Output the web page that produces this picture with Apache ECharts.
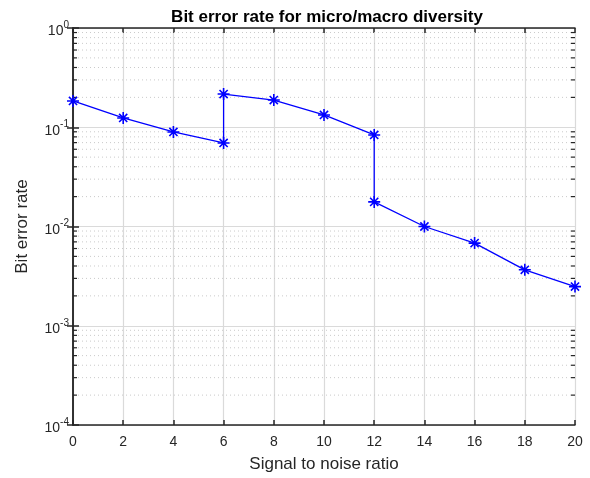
<!DOCTYPE html>
<html>
<head>
<meta charset="utf-8">
<script src="https://cdn.jsdelivr.net/npm/echarts@6/dist/echarts.min.js"></script>
<style>
html,body{margin:0;padding:0;background:#fff;}
#c{width:590px;height:478px;}
</style>
</head>
<body>
<div id="c"></div>
<script>
// ---- data ----
var snr = [0, 2, 4, 6, 6, 8, 10, 12, 12, 14, 16, 18, 20];
var ber = [0.184, 0.124, 0.0897, 0.0695, 0.216, 0.188, 0.133, 0.0836, 0.0177, 0.0100, 0.0068, 0.00366, 0.00248];
var xTicks = [0, 2, 4, 6, 8, 10, 12, 14, 16, 18, 20];
var yDecades = [1e-4, 1e-3, 1e-2, 1e-1, 1e0];
var yMinorTicks = [];
for (var d = 0; d < yDecades.length - 1; d++) {
  for (var m = 2; m <= 9; m++) yMinorTicks.push(m * yDecades[d]);
}
var titleText = 'Bit error rate for micro/macro diversity';
var xName = 'Signal to noise ratio';
var yName = 'Bit error rate';

var FONT = '"Liberation Sans", Arial, Helvetica, sans-serif';
var AX = '#262626';
var xMin = xTicks[0], xMax = xTicks[xTicks.length - 1];

var chart = echarts.init(document.getElementById('c'), null, {renderer: 'canvas'});

function yLabel(v) {
  var e = Math.round(Math.log(v) / Math.LN10);
  return '{b|10}{s|' + e + '}';
}

var asterisk = 'path://M5,0 L5,10 M0,5 L10,5 M1.6,1.6 L8.4,8.4 M8.4,1.6 L1.6,8.4';

var option = {
  animation: false,
  backgroundColor: '#fff',
  title: {
    text: titleText,
    left: 322, top: 4, textAlign: 'center',
    textStyle: {fontFamily: FONT, fontSize: 17, fontWeight: 'bold', color: '#000'}
  },
  grid: {left: 73, right: 15, top: 28, bottom: 53, containLabel: false},
  xAxis: [{
    type: 'value', min: xMin, max: xMax, interval: 2,
    name: xName, nameLocation: 'middle', nameGap: 31,
    nameTextStyle: {fontFamily: FONT, fontSize: 17, color: AX},
    axisLine: {show: true, lineStyle: {color: AX, width: 1.5}},
    axisTick: {show: true, inside: true, length: 5, lineStyle: {color: AX, width: 1.5}},
    axisLabel: {fontFamily: FONT, fontSize: 14, color: AX, margin: 10},
    splitLine: {show: true, lineStyle: {color: '#dadada', width: 1.2}}
  }, {
    type: 'value', min: xMin, max: xMax, interval: 2, position: 'top',
    axisLine: {show: true, lineStyle: {color: AX, width: 1.5}},
    axisTick: {show: true, inside: true, length: 5, lineStyle: {color: AX, width: 1.5}},
    axisLabel: {show: false},
    splitLine: {show: false}
  }],
  yAxis: [{
    type: 'log', logBase: 10, min: yDecades[0], max: yDecades[yDecades.length - 1],
    name: yName, nameLocation: 'middle', nameGap: 42, nameRotate: 90,
    nameTextStyle: {fontFamily: FONT, fontSize: 17, color: AX},
    axisLine: {show: true, lineStyle: {color: AX, width: 1.5}},
    axisTick: {show: true, inside: true, length: 6, lineStyle: {color: AX, width: 1.5}},
    axisLabel: {
      formatter: yLabel, margin: 4,
      rich: {
        b: {fontFamily: FONT, fontSize: 14, color: AX, padding: [7, 0, 0, 0]},
        s: {fontFamily: FONT, fontSize: 10, color: AX, padding: [0, 0, 6, 0]}
      }
    },
    splitLine: {show: true, lineStyle: {color: '#dadada', width: 1.2}}
  }, {
    type: 'log', logBase: 10, min: yDecades[0], max: yDecades[yDecades.length - 1], position: 'right',
    axisLine: {show: true, lineStyle: {color: AX, width: 1.5}},
    axisTick: {show: true, inside: true, length: 6, lineStyle: {color: AX, width: 1.5}},
    axisLabel: {show: false},
    splitLine: {show: false}
  }],
  series: [{
    // minor grid lines + minor ticks on both sides
    type: 'custom', silent: true, clip: false, xAxisIndex: 0, yAxisIndex: 0, z: 1,
    data: yMinorTicks.map(function (v, i) { return [xMin, v]; }),
    renderItem: function (params, api) {
      var v = yMinorTicks[params.dataIndex];
      var pL = api.coord([xMin, v]);
      var pR = api.coord([xMax, v]);
      return {
        type: 'group',
        children: [
          {type: 'line', shape: {x1: pL[0] + 1, y1: pL[1], x2: pR[0] - 1, y2: pR[1]},
           style: {stroke: '#cacaca', lineWidth: 1, lineDash: [1, 3]}},
          {type: 'line', shape: {x1: pL[0], y1: pL[1], x2: pL[0] + 4, y2: pL[1]}, style: {stroke: AX, lineWidth: 1.2}},
          {type: 'line', shape: {x1: pR[0], y1: pR[1], x2: pR[0] - 4, y2: pR[1]}, style: {stroke: AX, lineWidth: 1.2}}
        ]
      };
    }
  }, {
    type: 'line', xAxisIndex: 0, yAxisIndex: 0,
    data: snr.map(function (x, i) { return [x, ber[i]]; }),
    lineStyle: {color: '#0000ff', width: 1.3},
    symbol: asterisk, symbolSize: 12,
    itemStyle: {color: 'rgba(0,0,0,0)', borderColor: '#0000ff', borderWidth: 1.6},
    z: 5
  }]
};
chart.setOption(option);
</script>
</body>
</html>
